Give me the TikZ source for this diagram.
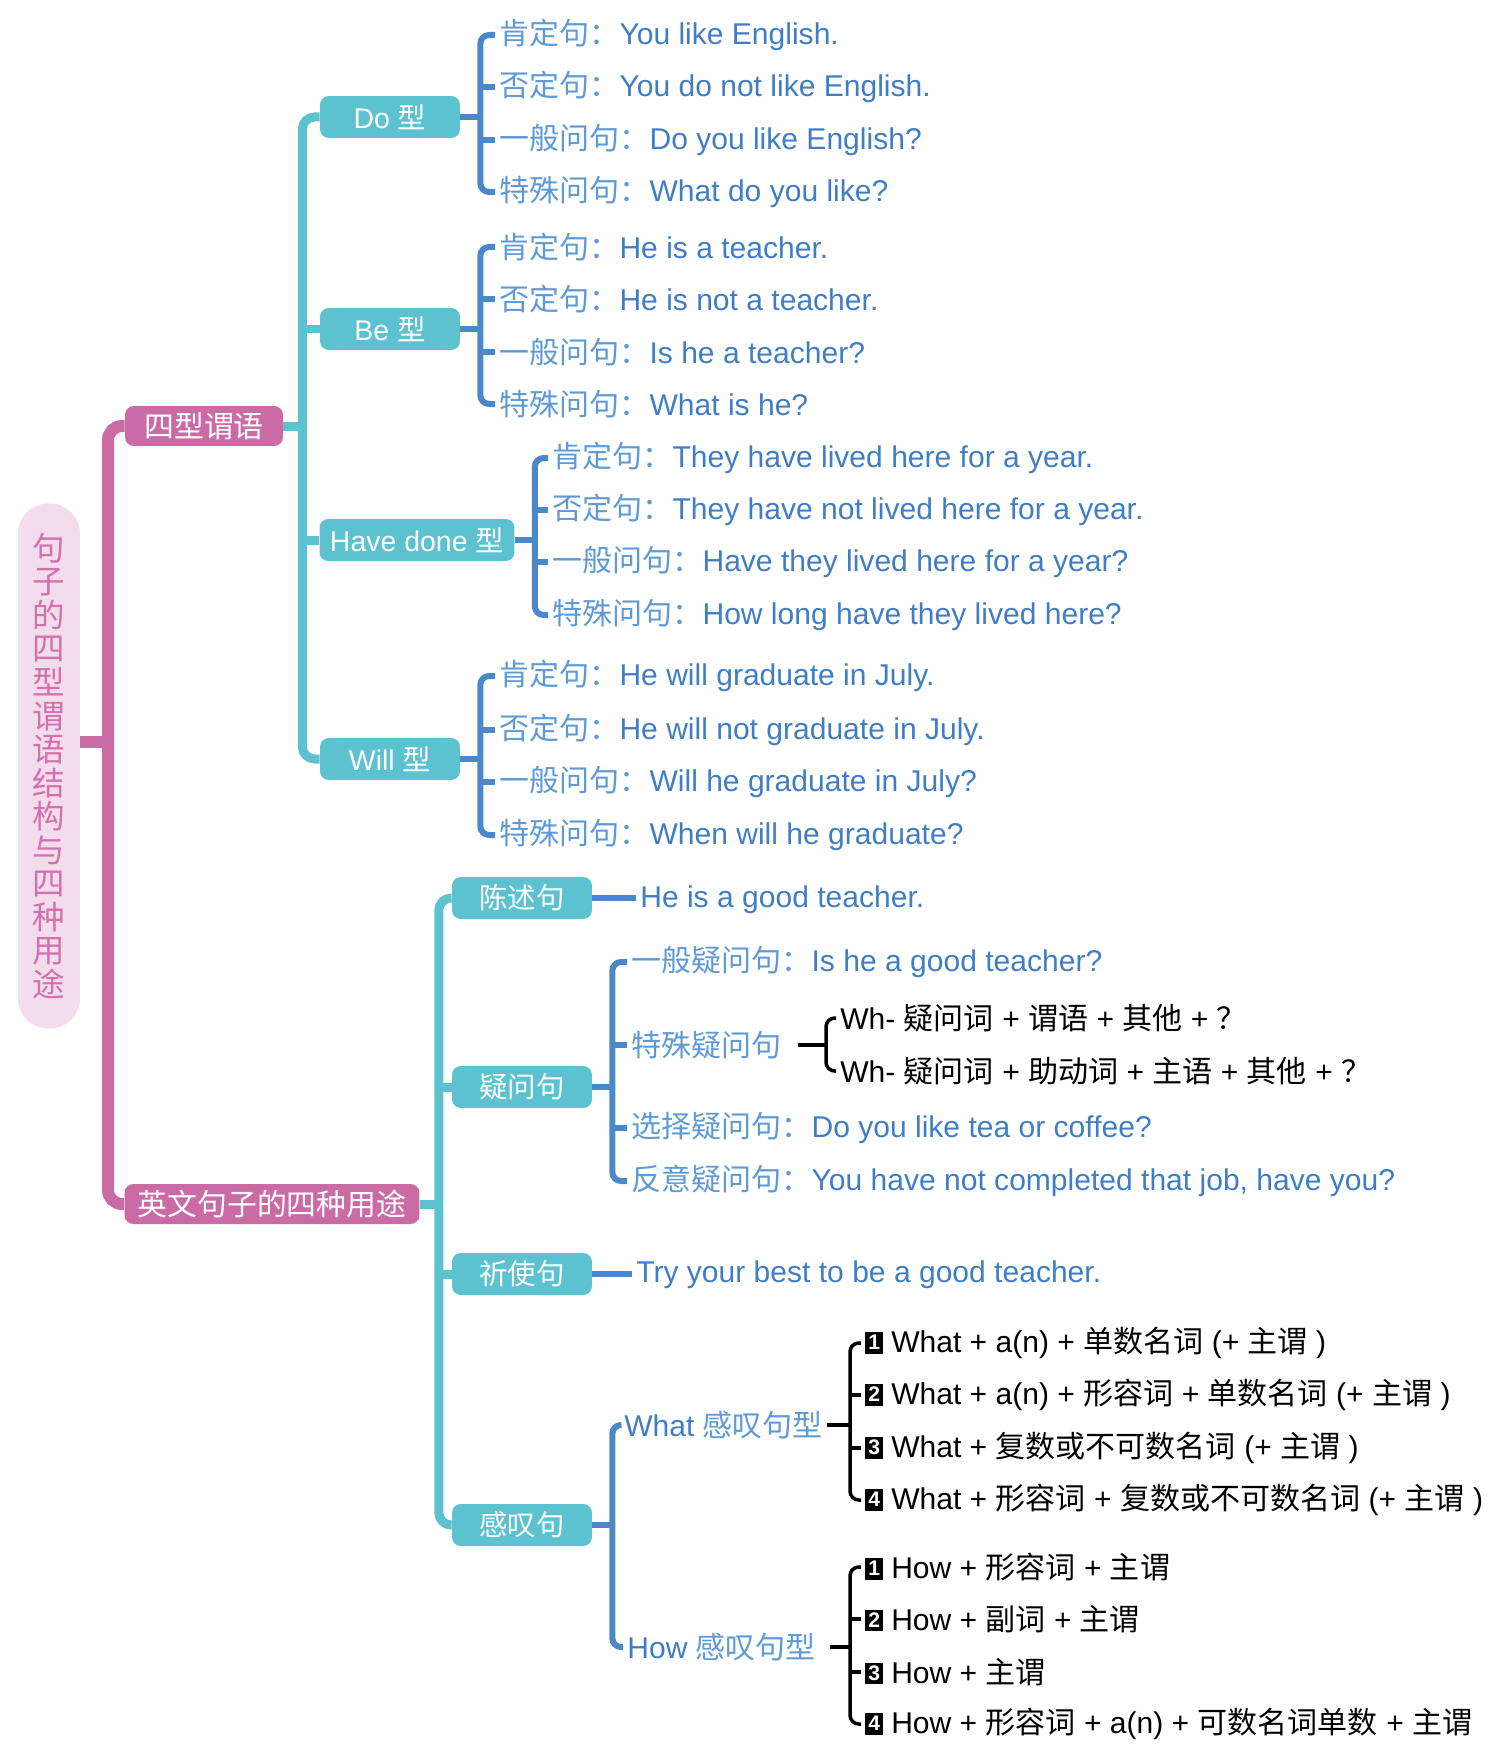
\documentclass[tikz,border=0pt]{standalone}
\usepackage{fontspec}
\setmainfont{Liberation Sans}
\newfontfamily\cjk{Noto Sans CJK SC}
\newfontfamily\latn{Liberation Sans}
\usetikzlibrary{calc}
% switch to the CJK font for Han characters and back
\XeTeXinterchartokenstate=1
\chardef\cjkcls=17
\newcount\cjkn
\cjkn="4E00
\loop\ifnum\cjkn<"A000 \XeTeXcharclass\cjkn=\cjkcls \advance\cjkn by 1 \repeat
\XeTeXcharclass"FF1A=\cjkcls
\XeTeXcharclass"FF1F=\cjkcls
\XeTeXinterchartoks 0 \cjkcls={\cjk}
\XeTeXinterchartoks 4095 \cjkcls={\cjk}
\XeTeXinterchartoks \cjkcls 0={\latn}
\XeTeXinterchartoks \cjkcls 4095={\latn}
\definecolor{pk}{HTML}{CB6BA6}
\definecolor{rootbg}{HTML}{F3DDEC}
\definecolor{rootfg}{HTML}{D271AE}
\definecolor{cy}{HTML}{5CC2D0}
\definecolor{bl}{HTML}{4A88CA}
\definecolor{txtblue}{HTML}{3F7EC4}
\definecolor{lbl}{HTML}{5E9AD6}
\newcommand\lb[1]{{\color{lbl}#1}}
\newcommand\nbx[1]{{\fboxsep=0pt\colorbox{black}{\makebox[10pt]{\rule[-0.6pt]{0pt}{12.4pt}\raisebox{1.7pt}{\color{white}\fontsize{12}{12}\selectfont\bfseries #1}}}}}
\tikzset{
  pinkbox/.style={fill=pk,text=white,rounded corners=5pt,minimum height=0.8cm,inner xsep=0.24cm,font=\fontsize{17}{20}\selectfont},
  cybox/.style={fill=cy,text=white,rounded corners=5pt,minimum height=0.84cm,minimum width=2.8cm,font=\fontsize{16.2}{19}\selectfont},
  leaf/.style={anchor=west,inner xsep=0.08cm,inner ysep=0pt,text=txtblue,font=\fontsize{17.1}{20}\selectfont},
  bleaf/.style={leaf,text=black},
  pkline/.style={pk,line width=0.24cm},
  cyline/.style={cy,line width=0.18cm},
  brk/.style={bl,line width=0.12cm},
  blk/.style={black,line width=0.07cm},
}

\begin{document}
\begin{tikzpicture}[x=0.02cm,y=-0.02cm]
\useasboundingbox (0,0) rectangle (1500,1750);
\node[fill=rootbg,text=rootfg,rounded corners=0.6cm,minimum width=1.24cm,minimum height=10.5cm,align=center,font=\fontsize{18.5}{19.1}\selectfont] (root) at (49,766) {句\\子\\的\\四\\型\\谓\\语\\结\\构\\与\\四\\种\\用\\途};
\node[pinkbox,minimum width=3.16cm] (sixing) at (204,426) {四型谓语};
\node[pinkbox,minimum width=5.9cm] (yongtu) at (272,1204) {英文句子的四种用途};
% second level
\node[cybox] (do) at (390,117) {Do 型};
\node[cybox] (be) at (390,329) {Be 型};
\node[cybox,minimum width=3.9cm] (hd) at (417,540) {Have done 型};
\node[cybox] (will) at (390,759) {Will 型};
\node[cybox] (chenshu) at (522,898) {陈述句};
\node[cybox] (yiwen) at (522,1087) {疑问句};
\node[cybox] (qishi) at (522,1274) {祈使句};
\node[cybox] (gantan) at (522,1525) {感叹句};
% leaves
\node[leaf] (do1) at (495,35) {\lb{肯定句：}You like English.};
\node[leaf] (do2) at (495,87) {\lb{否定句：}You do not like English.};
\node[leaf] (do3) at (495,140) {\lb{一般问句：}Do you like English?};
\node[leaf] (do4) at (495,192) {\lb{特殊问句：}What do you like?};
\node[leaf] (be1) at (495,247) {\lb{肯定句：}He is a teacher.};
\node[leaf] (be2) at (495,299) {\lb{否定句：}He is not a teacher.};
\node[leaf] (be3) at (495,352) {\lb{一般问句：}Is he a teacher?};
\node[leaf] (be4) at (495,404) {\lb{特殊问句：}What is he?};
\node[leaf] (hd1) at (548,458) {\lb{肯定句：}They have lived here for a year.};
\node[leaf] (hd2) at (548,510) {\lb{否定句：}They have not lived here for a year.};
\node[leaf] (hd3) at (548,562) {\lb{一般问句：}Have they lived here for a year?};
\node[leaf] (hd4) at (548,615) {\lb{特殊问句：}How long have they lived here?};
\node[leaf] (wi1) at (495,676) {\lb{肯定句：}He will graduate in July.};
\node[leaf] (wi2) at (495,730) {\lb{否定句：}He will not graduate in July.};
\node[leaf] (wi3) at (495,782) {\lb{一般问句：}Will he graduate in July?};
\node[leaf] (wi4) at (495,835) {\lb{特殊问句：}When will he graduate?};
\node[leaf] (cs1) at (636,900) {He is a good teacher.};
\node[leaf] (yw1) at (627,962) {\lb{一般疑问句：}Is he a good teacher?};
\node[leaf,text=lbl] (ts) at (627,1045) {特殊疑问句};
\node[leaf] (yw3) at (627,1128) {\lb{选择疑问句：}Do you like tea or coffee?};
\node[leaf] (yw4) at (627,1181) {\lb{反意疑问句：}You have not completed that job, have you?};
\node[bleaf] (ts1) at (836,1018) {Wh- 疑问词 + 谓语 + 其他 + ？};
\node[bleaf] (ts2) at (836,1071) {Wh- 疑问词 + 助动词 + 主语 + 其他 + ？};
\node[leaf] (qs1) at (632,1275) {Try your best to be a good teacher.};
\node[leaf] (what) at (620,1425) {What \lb{感叹句型}};
\node[leaf] (how) at (623,1647) {How \lb{感叹句型}};
\node[bleaf] (wh1) at (861,1343) {\nbx{1} What + a(n) + 单数名词 (+ 主谓 )};
\node[bleaf] (wh2) at (861,1395) {\nbx{2} What + a(n) + 形容词 + 单数名词 (+ 主谓 )};
\node[bleaf] (wh3) at (861,1448) {\nbx{3} What + 复数或不可数名词 (+ 主谓 )};
\node[bleaf] (wh4) at (861,1500) {\nbx{4} What + 形容词 + 复数或不可数名词 (+ 主谓 )};
\node[bleaf] (ho1) at (861,1567) {\nbx{1} How + 形容词 + 主谓};
\node[bleaf] (ho2) at (861,1619) {\nbx{2} How + 副词 + 主谓};
\node[bleaf] (ho3) at (861,1672) {\nbx{3} How + 主谓};
\node[bleaf] (ho4) at (861,1724) {\nbx{4} How + 形容词 + a(n) + 可数名词单数 + 主谓};
% pink trunk
\coordinate (p1) at (108,742);
\draw[pkline] (root.east |- p1) -- (p1);
\draw[pkline,rounded corners=8pt] (sixing.west) -| (p1) |- (yongtu.west);
% cyan trunks
\coordinate (c1) at ([xshift=0.38cm]sixing.east);
\draw[cyline] (sixing.east) -- (c1);
\draw[cyline,rounded corners=7pt] (do.west) -| (c1) |- (will.west);
\foreach \n in {be,hd} \draw[cyline] (\n.west) -- (\n.west -| c1);
\coordinate (c2) at ([xshift=0.38cm]yongtu.east);
\draw[cyline] (yongtu.east) -- (c2);
\draw[cyline,rounded corners=7pt] (chenshu.west) -| (c2) |- (gantan.west);
\foreach \n in {yiwen,qishi} \draw[cyline] (\n.west) -- (\n.west -| c2);
% blue brackets
\foreach \p in {do,be,hd,will,yiwen,gantan} {
  \coordinate (b\p) at ([xshift=0.4cm]\p.east);
  \draw[brk] (\p.east) -- (b\p);
}
\draw[brk,rounded corners=5pt] (do1.west) -| (bdo) |- (do4.west);
\draw[brk,rounded corners=5pt] (be1.west) -| (bbe) |- (be4.west);
\draw[brk,rounded corners=5pt] (hd1.west) -| (bhd) |- (hd4.west);
\draw[brk,rounded corners=5pt] (wi1.west) -| (bwill) |- (wi4.west);
\draw[brk,rounded corners=5pt] (yw1.west) -| (byiwen) |- (yw4.west);
\draw[brk,rounded corners=5pt] (what.west) -| (bgantan) |- (how.west);
\foreach \n in {do2,do3,be2,be3,hd2,hd3,wi2,wi3} \draw[brk] (\n.west) -- ++(-0.3cm,0);
\draw[brk] (ts.west) -- (ts.west -| byiwen);
\draw[brk] (yw3.west) -- (yw3.west -| byiwen);
\draw[brk] (chenshu.east) -- (chenshu.east -| cs1.west);
\draw[brk] (qishi.east) -- (qishi.east -| qs1.west);
% black brackets
\coordinate (bts) at (826,1045);
\draw[blk,shorten <=0.24cm] (ts.east) -- (bts);
\draw[blk,rounded corners=5pt] (ts1.west) -| (bts) |- (ts2.west);
\coordinate (bwh) at (850,1425);
\draw[blk] (what.east) -- (bwh);
\draw[blk,rounded corners=5pt] (wh1.west) -| (bwh) |- (wh4.west);
\foreach \n in {wh2,wh3} \draw[blk] (\n.west) -- (\n.west -| bwh);
\coordinate (bho) at (850,1647);
\draw[blk,shorten <=0.2cm] (how.east) -- (bho);
\draw[blk,rounded corners=5pt] (ho1.west) -| (bho) |- (ho4.west);
\foreach \n in {ho2,ho3} \draw[blk] (\n.west) -- (\n.west -| bho);
\end{tikzpicture}
\end{document}
